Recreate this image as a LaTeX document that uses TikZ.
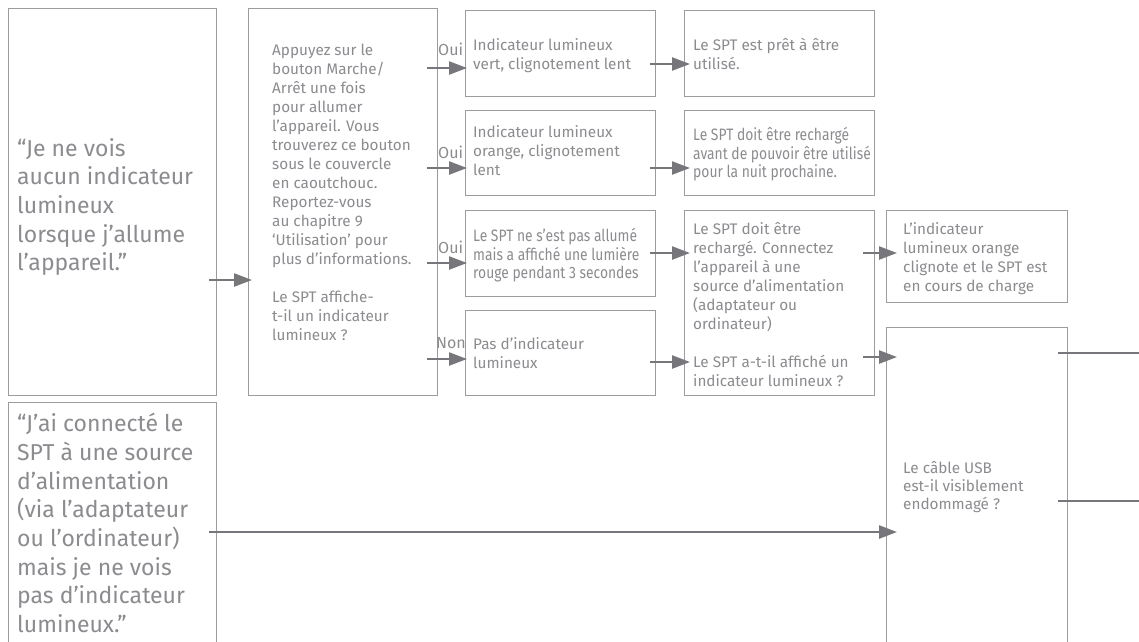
\documentclass[tikz,border=0pt]{standalone}
\usepackage{fontspec}
\setmainfont{Fira Sans}
\newfontfamily\cond[FakeStretch=0.84]{Fira Sans}
\usetikzlibrary{arrows.meta,calc}
\definecolor{tc}{HTML}{8C8C90}
\definecolor{bc}{HTML}{9C9C9F}
\definecolor{ac}{HTML}{77777B}
\tikzset{
  box/.style={draw=bc, line width=1.2pt, inner sep=0pt, anchor=north west},
  txt/.style={anchor=north west, inner sep=0pt, align=left, text=tc, font=\fontsize{15.3}{19}\selectfont},
  ctxt/.style={txt, font=\cond\fontsize{16.5}{18.7}\selectfont},
  bigtxt/.style={anchor=north west, inner sep=0pt, align=left, text=tc, font=\fontsize{23}{28.7}\selectfont},
  lbl/.style={anchor=base west, inner sep=0pt, text=tc, font=\fontsize{16}{18}\selectfont},
  arr/.style={draw=ac, line width=2.4pt, -{Triangle[length=18pt,width=13pt]}},
  lin/.style={draw=ac, line width=2.4pt}
}
\begin{document}
\begin{tikzpicture}[x=1pt,y=-1pt]
\clip (0,0) rectangle (1139,641);
\fill[white] (0,0) rectangle (1139,641);
% boxes
\node[box, minimum width=208pt, minimum height=387pt] (A) at (8,8) {};
\node[box, minimum width=208pt, minimum height=270pt] (B) at (8,402) {};
\node[box, minimum width=189pt, minimum height=387pt] (C) at (248,8) {};
\node[box, minimum width=190pt, minimum height=86pt] (r1) at (465,10) {};
\node[box, minimum width=190pt, minimum height=85pt] (r2) at (465,110) {};
\node[box, minimum width=190pt, minimum height=86pt] (r3) at (465,210) {};
\node[box, minimum width=190pt, minimum height=85pt] (r4) at (465,310) {};
\node[box, minimum width=190pt, minimum height=86pt] (s1) at (684,10) {};
\node[box, minimum width=190pt, minimum height=85pt] (s2) at (684,110) {};
\node[box, minimum width=190pt, minimum height=185pt] (s3) at (684,210) {};
\node[box, minimum width=181pt, minimum height=92pt] (t1) at (886,210) {};
\node[box, minimum width=181pt, minimum height=350pt] (t2) at (886,327) {};
% texts
\node[bigtxt] (At) at (17,138) {“Je ne vois\\aucun indicateur\\lumineux\\lorsque j’allume\\l’appareil.”};
\node[bigtxt] (Bt) at (17,413) {“J’ai connecté le\\SPT à une source\\d’alimentation\\(via l’adaptateur\\ou l’ordinateur)\\mais je ne vois\\pas d’indicateur\\lumineux.”};
\node[txt] (Ct) at (272,44) {Appuyez sur le\\bouton Marche/\\Arrêt une fois\\pour allumer\\l’appareil. Vous\\trouverez ce bouton\\sous le couvercle\\en caoutchouc.\\Reportez-vous\\au chapitre 9\\‘Utilisation’ pour\\plus d’informations.\\[19pt]Le SPT affiche-\\t-il un indicateur\\lumineux ?};
\node[txt] (r1t) at (473,38) {Indicateur lumineux\\vert, clignotement lent};
\node[txt] (r2t) at (473,125) {Indicateur lumineux\\orange, clignotement\\lent};
\node[ctxt] (r3t) at (473,228) {Le SPT ne s’est pas allumé\\mais a affiché une lumière\\rouge pendant 3 secondes};
\node[txt] (r4t) at (473,337) {Pas d’indicateur\\lumineux};
\node[txt] (s1t) at (693,38) {Le SPT est prêt à être\\utilisé.};
\node[ctxt] (s2t) at (693,127) {Le SPT doit être rechargé\\avant de pouvoir être utilisé\\pour la nuit prochaine.};
\node[txt] (s3t) at (693,222) {Le SPT doit être\\rechargé. Connectez\\l’appareil à une\\source d’alimentation\\(adaptateur ou\\ordinateur)\\[19pt]Le SPT a-t-il affiché un\\indicateur lumineux ?};
\node[txt] (t1t) at (903,222) {L’indicateur\\lumineux orange\\clignote et le SPT est\\en cours de charge};
\node[txt, font=\fontsize{15.3}{18}\selectfont] (t2t) at (903,461) {Le câble USB\\est-il visiblement\\endommagé ?};
% labels
\node[lbl] (l1) at (438,55) {Oui};
\node[lbl] (l2) at (438,158) {Oui};
\node[lbl] (l3) at (438,253) {Oui};
\node[lbl] (l4) at (436,348) {Non};
% connector start points
\coordinate (pA) at (209,280);
\coordinate (pB) at (209,532);
\coordinate (pC1) at (427,68);
\coordinate (pC2) at (427,168);
\coordinate (pC3) at (427,263);
\coordinate (pC4) at (427,359);
\coordinate (pR1) at (650,64);
\coordinate (pR2) at (650,168);
\coordinate (pR3) at (650,253);
\coordinate (pR4) at (650,362);
\coordinate (pS1) at (863,253);
\coordinate (pS2) at (863,357);
\coordinate (pT1) at (1058,353);
\coordinate (pT2) at (1058,501);
\coordinate (oT1) at (1150,353);
\coordinate (oT2) at (1150,501);
% connectors
\draw[arr] (pA) -- ([xshift=4pt]pA -| C.west);
\draw[arr] (pC1) -- ([xshift=2pt]pC1 -| r1.west);
\draw[arr] (pC2) -- ([xshift=2pt]pC2 -| r2.west);
\draw[arr] (pC3) -- ([xshift=2pt]pC3 -| r3.west);
\draw[arr] (pC4) -- ([xshift=2pt]pC4 -| r4.west);
\draw[arr] (pR1) -- ([xshift=6pt]pR1 -| s1.west);
\draw[arr] (pR2) -- ([xshift=6pt]pR2 -| s2.west);
\draw[arr] (pR3) -- ([xshift=6pt]pR3 -| s3.west);
\draw[arr] (pR4) -- ([xshift=6pt]pR4 -| s3.west);
\draw[arr] (pS1) -- ([xshift=11pt]pS1 -| t1.west);
\draw[arr] (pS2) -- ([xshift=11pt]pS2 -| t2.west);
\draw[arr] (pB) -- ([xshift=11pt]pB -| t2.west);
\draw[lin] (pT1) -- (oT1);
\draw[lin] (pT2) -- (oT2);
\end{tikzpicture}
\end{document}
